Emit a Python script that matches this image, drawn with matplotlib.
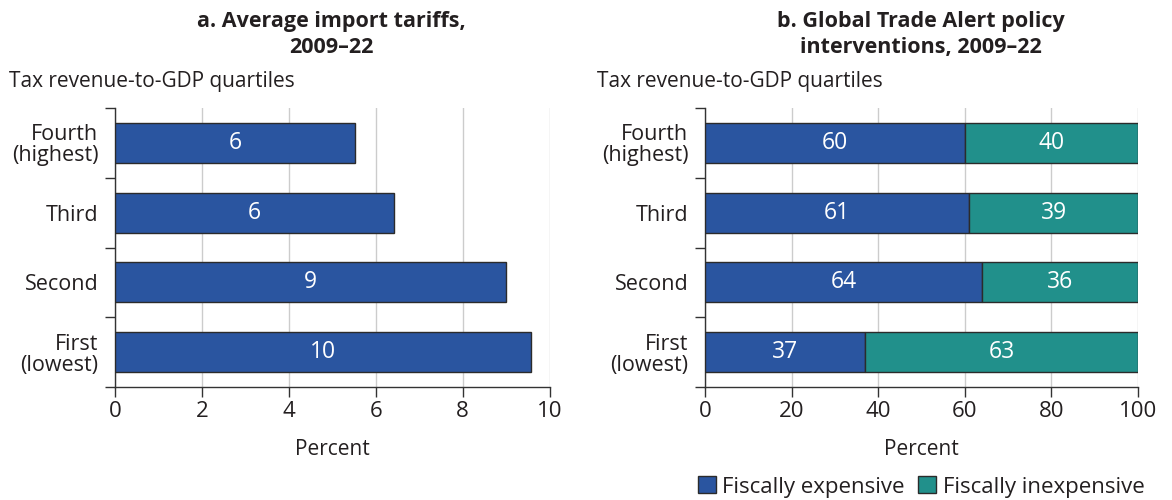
import matplotlib.pyplot as plt
import numpy as np
from matplotlib.patches import Patch

plt.rcParams['font.family'] = ['Open Sans', 'DejaVu Sans']

quartiles = ['First\n(lowest)', 'Second', 'Third', 'Fourth\n(highest)']
tariffs = [9.56, 8.99, 6.41, 5.52]
expensive = [37, 64, 61, 60]
inexpensive = [63, 36, 39, 40]

blue = '#2a55a0'
teal = '#21908b'
edge = '#2b2b2b'
txt = '#231f20'

fig = plt.figure(figsize=(11.72, 5.0), dpi=100)
ax1 = fig.add_axes([0.098, 0.226, 0.371, 0.558])
ax2 = fig.add_axes([0.6015, 0.226, 0.3695, 0.558])

y = np.arange(len(quartiles))
h = 0.57

# panel a
ax1.barh(y, tariffs, height=h, color=blue, edgecolor=edge, linewidth=1, zorder=3)
for yi, v in zip(y, tariffs):
    ax1.text(v / 2, yi, f'{round(v)}', ha='center', va='center', color='white', fontsize=16.5, zorder=4)
ax1.set_xlim(0, 10)
ax1.set_xticks([0, 2, 4, 6, 8, 10])

# panel b
ax2.barh(y, expensive, height=h, color=blue, edgecolor=edge, linewidth=1, zorder=3)
ax2.barh(y, inexpensive, left=expensive, height=h, color=teal, edgecolor=edge, linewidth=1, zorder=3)
for yi, a, b in zip(y, expensive, inexpensive):
    ax2.text(a / 2, yi, f'{a}', ha='center', va='center', color='white', fontsize=16.5, zorder=4)
    ax2.text(a + b / 2, yi, f'{b}', ha='center', va='center', color='white', fontsize=16.5, zorder=4)
ax2.set_xlim(0, 100)
ax2.set_xticks([0, 20, 40, 60, 80, 100])

for ax in (ax1, ax2):
    ax.set_ylim(-0.5, 3.5)
    ax.set_yticks(y)
    ax.set_yticklabels(quartiles, fontsize=15.5, color=txt, linespacing=1.0)
    ax.set_yticks(np.arange(-0.5, 4.0, 1.0), minor=True)
    ax.tick_params(axis='y', which='major', length=0, pad=12)
    ax.tick_params(axis='y', which='minor', length=7, width=1, color='#333333')
    ax.tick_params(axis='x', length=7, width=1, color='#333333', labelsize=16, labelcolor=txt, pad=3)
    ax.grid(axis='x', color='#cccccc', linewidth=1, zorder=0)
    for s in ('top', 'right'):
        ax.spines[s].set_visible(False)
    for s in ('left', 'bottom'):
        ax.spines[s].set_color('#333333')
        ax.spines[s].set_linewidth(1)
    ax.set_xlabel('Percent', fontsize=15, color=txt, labelpad=12)
    for lab in ax.get_yticklabels():
        lab.set_horizontalalignment('right')
        lab.set_multialignment('right')

fig.text(0.283, 0.977, 'a. Average import tariffs,\n2009\u201322', ha='center', va='top',
         fontsize=15.5, fontweight='bold', color=txt, linespacing=1.3)
fig.text(0.786, 0.977, 'b. Global Trade Alert policy\ninterventions, 2009\u201322', ha='center', va='top',
         fontsize=15.5, fontweight='bold', color=txt, linespacing=1.3)
fig.text(0.008, 0.836, 'Tax revenue-to-GDP quartiles', ha='left', va='center', fontsize=15, color=txt)
fig.text(0.509, 0.836, 'Tax revenue-to-GDP quartiles', ha='left', va='center', fontsize=15, color=txt)

handles = [Patch(facecolor=blue, edgecolor=edge, label='Fiscally expensive'),
           Patch(facecolor=teal, edgecolor=edge, label='Fiscally inexpensive')]
fig.legend(handles=handles, loc='center', bbox_to_anchor=(0.786, 0.026), ncol=2, frameon=False,
           fontsize=16, handlelength=0.8, handleheight=0.8, handletextpad=0.3, columnspacing=0.6,
           labelcolor=txt, borderpad=0)

fig.savefig('out.png', dpi=100)
